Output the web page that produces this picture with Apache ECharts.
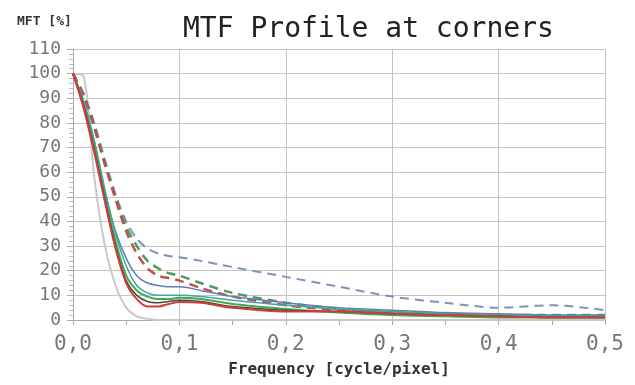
<!DOCTYPE html>
<html>
<head>
<meta charset="utf-8">
<script src="https://cdn.jsdelivr.net/npm/echarts@6/dist/echarts.min.js"></script>
<style>
  html, body { margin: 0; padding: 0; background: #fff; }
  #chart { width: 635px; height: 385px; }
</style>
</head>
<body>
<div id="chart"></div>
<script>
// frequency samples [cycle/pixel]
var freq = [0, 0.01, 0.02, 0.03, 0.04, 0.05, 0.06, 0.07, 0.08, 0.09, 0.1, 0.12, 0.15, 0.2, 0.25, 0.3, 0.35, 0.4, 0.45, 0.5];

// MTF values [%]
var grayLine    = [100, 99, 58, 30, 14, 5, 1.5, 0.5, 0, 0, 0, 0, 0, 0, 0, 0, 0, 0, 0, 0];
var blueDashed  = [100, 92, 80, 65, 51, 40, 33, 29, 27, 26, 25.5, 24, 21.5, 17.5, 13.5, 9.5, 7, 5, 6, 4];
var greenDashed = [100, 91, 79, 64, 50, 38, 30, 24, 21, 19, 18, 15, 11, 7, 4.5, 3, 2.5, 2, 2, 2];
var redDashed   = [100, 91, 78, 63, 49, 36, 27, 21, 18, 17, 16, 13, 9.5, 6, 4, 3, 2.5, 2, 1.5, 1.5];
var blueSolid   = [100, 88, 72, 52, 36, 25, 18, 15, 14, 13.5, 13.5, 12, 9.5, 7, 5, 4, 3, 2.5, 2, 2];
var tealSolid   = [100, 89, 73, 53, 35, 22, 14, 11, 10, 10, 10, 9.5, 8, 6, 4.5, 3.5, 2.5, 2, 1.5, 1.5];
var greenSolid  = [100, 87, 70, 50, 32, 18, 12, 9.5, 8.5, 8.5, 9, 8.5, 6.5, 4.5, 3, 2, 1.5, 1, 1, 1];
var darkSolid   = [100, 87, 69, 49, 30, 16, 10, 7.5, 7, 7.5, 8, 7.5, 5.5, 4, 3.5, 2.5, 2, 1.5, 1, 1];
var redSolid    = [100, 86, 68, 48, 29, 15, 8.5, 5.5, 5.5, 6.5, 7.3, 7, 5, 3.5, 3.5, 2.5, 2, 1.5, 1, 1];

var xTicks = ['0,0', '0,1', '0,2', '0,3', '0,4', '0,5'];

function pairs(vals) {
  return freq.map(function (f, i) { return [f, vals[i]]; });
}

function line(name, vals, color, dashed, width) {
  return {
    name: name,
    type: 'line',
    data: pairs(vals),
    smooth: 0.3,
    showSymbol: false,
    lineStyle: {
      color: color,
      width: width || 2,
      type: dashed ? [9, 6] : 'solid'
    }
  };
}

var mono = 'DejaVu Sans Mono';

var option = {
  animation: false,
  title: [{
    text: 'MTF Profile at corners',
    left: 178,
    top: 11,
    textStyle: { fontFamily: mono, fontSize: 28, fontWeight: 'normal', color: '#222' }
  }, {
    text: 'MFT [%]',
    left: 12,
    top: 10,
    textStyle: { fontFamily: mono, fontSize: 13, fontWeight: 'bold', color: '#333' }
  }],
  grid: { left: 73, right: 30, top: 49, bottom: 65 },
  xAxis: {
    type: 'value',
    min: 0,
    max: 0.5,
    interval: 0.1,
    name: 'Frequency [cycle/pixel]',
    nameLocation: 'middle',
    nameGap: 42,
    nameTextStyle: { fontFamily: mono, fontSize: 16, fontWeight: 'bold', color: '#333' },
    axisLine: { show: true, lineStyle: { color: '#aaa' } },
    axisTick: { show: true, length: 5, lineStyle: { color: '#aaa' } },
    minorTick: { show: true, splitNumber: 2, length: 5, lineStyle: { color: '#aaa' } },
    axisLabel: {
      fontFamily: mono, fontSize: 21, color: '#777', margin: 14,
      formatter: function (v) { return xTicks[Math.round(v * 10)]; }
    },
    splitLine: { show: true, lineStyle: { color: '#c4c4c4' } }
  },
  yAxis: {
    type: 'value',
    min: 0,
    max: 110,
    interval: 10,
    axisLine: { show: true, lineStyle: { color: '#aaa' } },
    axisTick: { show: true, length: 6, lineStyle: { color: '#aaa' } },
    minorTick: { show: true, splitNumber: 5, length: 4, lineStyle: { color: '#bbb' } },
    axisLabel: { fontFamily: mono, fontSize: 18, color: '#777', margin: 12 },
    splitLine: { show: true, lineStyle: { color: '#c4c4c4' } }
  },
  series: [
    line('gray', grayLine, '#c8c8c8', false, 2),
    line('blue dashed', blueDashed, '#7b93bd', true, 2),
    line('green dashed', greenDashed, '#4d9a5a', true, 2.5),
    line('red dashed', redDashed, '#c0504d', true, 2.5),
    line('blue', blueSolid, '#5f7fb5', false, 1.5),
    line('teal', tealSolid, '#3fa7a0', false, 1.5),
    line('green', greenSolid, '#3faa52', false, 2),
    line('dark', darkSolid, '#4a4a3a', false, 1.5),
    line('red', redSolid, '#d23a3a', false, 2)
  ]
};

echarts.init(document.getElementById('chart')).setOption(option);
</script>
</body>
</html>
